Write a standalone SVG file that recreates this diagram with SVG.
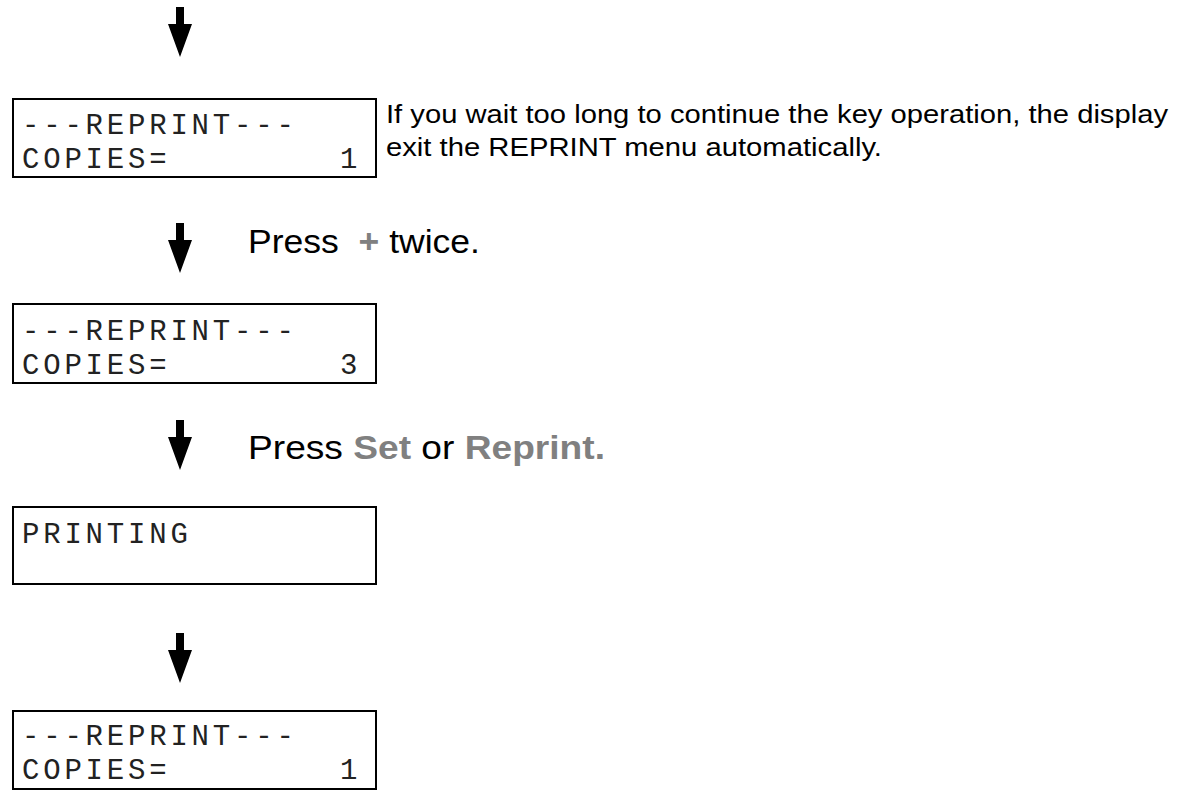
<svg xmlns="http://www.w3.org/2000/svg" width="1178" height="810" viewBox="0 0 1178 810">
<style>
.box{fill:#fff;stroke:#000;stroke-width:2}
.mono{font-family:"Liberation Mono",monospace;font-size:29px;letter-spacing:3.8px;fill:#222}
.sans{font-family:"Liberation Sans",Arial,sans-serif;fill:#000}
.g{fill:#808080;font-weight:bold}
</style>
<defs>
<path id="arr" d="M-4,0 H4 V17 H12 L0,50 L-12,17 H-4 Z" fill="#000"/>
</defs>
<g id="connectors">
<use href="#arr" x="180" y="7"/>
<use href="#arr" x="180" y="223"/>
<use href="#arr" x="180" y="420"/>
<use href="#arr" x="180" y="633"/>
</g>
<g id="box1">
<rect class="box" x="13" y="99" width="363" height="78"/>
<text class="mono" x="22" y="134" xml:space="preserve">---REPRINT---</text>
<text class="mono" x="22" y="168" xml:space="preserve">COPIES=        1</text>
</g>
<g id="note">
<text class="sans" font-size="25" x="386" y="123" textLength="782" lengthAdjust="spacingAndGlyphs">If you wait too long to continue the key operation, the display</text>
<text class="sans" font-size="25" x="386" y="156" textLength="496" lengthAdjust="spacingAndGlyphs">exit the REPRINT menu automatically.</text>
</g>
<g id="step1">
<text class="sans" font-size="33" x="248" y="253" textLength="232" lengthAdjust="spacingAndGlyphs" xml:space="preserve">Press  <tspan class="g">+</tspan> twice.</text>
</g>
<g id="step2">
<text class="sans" font-size="33" x="248" y="459" textLength="357" lengthAdjust="spacingAndGlyphs">Press <tspan class="g">Set</tspan> or <tspan class="g">Reprint.</tspan></text>
</g>
<g id="box2">
<rect class="box" x="13" y="304" width="363" height="79"/>
<text class="mono" x="22" y="340" xml:space="preserve">---REPRINT---</text>
<text class="mono" x="22" y="374" xml:space="preserve">COPIES=        3</text>
</g>
<g id="box3">
<rect class="box" x="13" y="507" width="363" height="77"/>
<text class="mono" x="22" y="543">PRINTING</text>
</g>
<g id="box4">
<rect class="box" x="13" y="711" width="363" height="78"/>
<text class="mono" x="22" y="745" xml:space="preserve">---REPRINT---</text>
<text class="mono" x="22" y="779" xml:space="preserve">COPIES=        1</text>
</g>
</svg>
